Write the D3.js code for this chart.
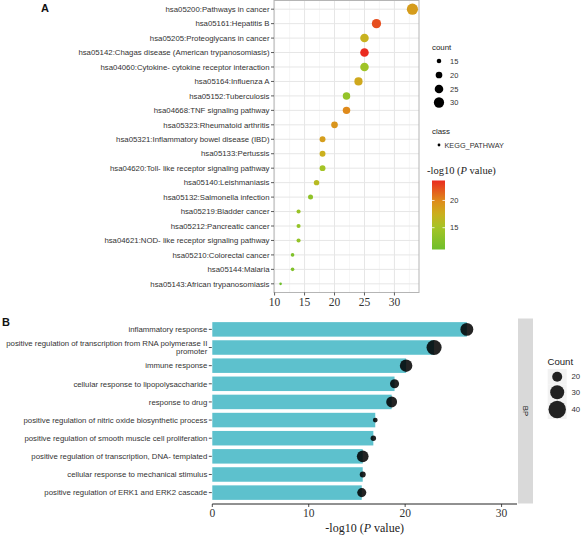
<!DOCTYPE html>
<html><head><meta charset="utf-8">
<script src="https://cdn.jsdelivr.net/npm/d3@7"></script>
<style>body{margin:0;background:#fff}svg{display:block}</style>
</head><body>
<svg id="c" width="581" height="535"></svg>
<script>
// ---------- Panel A data (KEGG) ----------
const keggTerms = [
  "hsa05200:Pathways in cancer",
  "hsa05161:Hepatitis B",
  "hsa05205:Proteoglycans in cancer",
  "hsa05142:Chagas disease (American trypanosomiasis)",
  "hsa04060:Cytokine- cytokine receptor interaction",
  "hsa05164:Influenza A",
  "hsa05152:Tuberculosis",
  "hsa04668:TNF signaling pathway",
  "hsa05323:Rheumatoid arthritis",
  "hsa05321:Inflammatory bowel disease (IBD)",
  "hsa05133:Pertussis",
  "hsa04620:Toll- like receptor signaling pathway",
  "hsa05140:Leishmaniasis",
  "hsa05132:Salmonella infection",
  "hsa05219:Bladder cancer",
  "hsa05212:Pancreatic cancer",
  "hsa04621:NOD- like receptor signaling pathway",
  "hsa05210:Colorectal cancer",
  "hsa05144:Malaria",
  "hsa05143:African trypanosomiasis"
];
const keggCount = [33, 27, 25, 25, 25, 24, 22, 22, 20, 18, 18, 18, 17, 16, 14, 14, 14, 13, 13, 11];
const keggLogP = [18.8, 22.3, 17.3, 23.66, 14.6, 18.0, 13.8, 20.0, 19.3, 18.7, 17.5, 15.0, 16.2, 13.4, 14.2, 13.8, 13.8, 12.2, 12.3, 11.0];
const keggXTicks = [10, 15, 20, 25, 30];
const countLegendA = [15, 20, 25, 30];
const colorbarTicks = [15, 20];

// ---------- Panel B data (GO BP) ----------
const goTerms = [
  "inflammatory response",
  "positive regulation of transcription from RNA polymerase II\npromoter",
  "immune response",
  "cellular response to lipopolysaccharide",
  "response to drug",
  "positive regulation of nitric oxide biosynthetic process",
  "positive regulation of smooth muscle cell proliferation",
  "positive regulation of transcription, DNA- templated",
  "cellular response to mechanical stimulus",
  "positive regulation of ERK1 and ERK2 cascade"
];
const goLogP = [26.4, 23.0, 20.1, 18.9, 18.6, 16.9, 16.7, 15.6, 15.6, 15.5];
const goCount = [27, 33, 26, 18, 22, 10, 11, 24, 12, 18];
const goXTicks = [0, 10, 20, 30];
const countLegendB = [20, 30, 40];

const svg = d3.select("#c");
const sans = "Liberation Sans, Arial, sans-serif";
const serif = "Liberation Serif, Times New Roman, serif";
const txtCol = "#333";

// ================= Panel A =================
const A = {l: 274, r: 419, t: 0.5, b: 292.5};
const xA = d3.scaleLinear().domain([9.9, 34.1]).range([A.l, A.r]);
const yA = d3.scalePoint().domain(keggTerms).range([A.t, A.b]).padding(0.6);
const rA = d3.scaleLinear().domain([Math.sqrt(11), Math.sqrt(33)]).range([1.3, 5.6]);
const colA = d3.scaleLinear()
  .domain([11.0, 15, 17.5, 20, 23.66])
  .range(["#6fbf2c", "#a4c426", "#cbb01e", "#df8a1b", "#ea2b1f"])
  .interpolate(d3.interpolateRgb);

const gA = svg.append("g");
gA.append("rect").attr("x", A.l).attr("y", A.t).attr("width", A.r - A.l).attr("height", A.b - A.t).attr("fill", "#fff");
// minor grid
const minorA = [12.5, 17.5, 22.5, 27.5, 32.5];
gA.selectAll(".mgx").data(minorA).join("line")
  .attr("x1", d => xA(d)).attr("x2", d => xA(d)).attr("y1", A.t).attr("y2", A.b)
  .attr("stroke", "#f0f0f0").attr("stroke-width", 0.6);
gA.selectAll(".gx").data(keggXTicks).join("line")
  .attr("x1", d => xA(d)).attr("x2", d => xA(d)).attr("y1", A.t).attr("y2", A.b)
  .attr("stroke", "#e6e6e6").attr("stroke-width", 1);
gA.selectAll(".gy").data(keggTerms).join("line")
  .attr("x1", A.l).attr("x2", A.r).attr("y1", d => yA(d)).attr("y2", d => yA(d))
  .attr("stroke", "#e6e6e6").attr("stroke-width", 1);
gA.append("rect").attr("x", A.l).attr("y", A.t).attr("width", A.r - A.l).attr("height", A.b - A.t)
  .attr("fill", "none").attr("stroke", "#b5b5b5").attr("stroke-width", 1);

// points
gA.selectAll(".pt").data(keggTerms).join("circle")
  .attr("cx", (d, i) => xA(keggCount[i])).attr("cy", d => yA(d))
  .attr("r", (d, i) => rA(Math.sqrt(keggCount[i])))
  .attr("fill", (d, i) => colA(keggLogP[i]));

// y axis
gA.selectAll(".yt").data(keggTerms).join("line")
  .attr("x1", A.l - 3).attr("x2", A.l).attr("y1", d => yA(d)).attr("y2", d => yA(d))
  .attr("stroke", "#333").attr("stroke-width", 0.8);
gA.selectAll(".yl").data(keggTerms).join("text")
  .attr("x", A.l - 4.5).attr("y", d => yA(d)).attr("dy", "0.35em")
  .attr("text-anchor", "end").attr("font-family", sans).attr("font-size", 7.8).attr("fill", txtCol)
  .text(d => d);
// x axis
gA.selectAll(".xt").data(keggXTicks).join("line")
  .attr("x1", d => xA(d)).attr("x2", d => xA(d)).attr("y1", A.b).attr("y2", A.b + 3)
  .attr("stroke", "#333").attr("stroke-width", 0.8);
gA.selectAll(".xl").data(keggXTicks).join("text")
  .attr("x", d => xA(d)).attr("y", 302).attr("dy", "0.35em")
  .attr("text-anchor", "middle").attr("font-family", serif).attr("font-size", 11.5).attr("fill", txtCol)
  .text(d => d);

svg.append("text").attr("x", 45).attr("y", 8).attr("dy", "0.35em").attr("text-anchor", "middle")
  .attr("font-family", sans).attr("font-weight", "bold").attr("font-size", 11).attr("fill", "#111").text("A");

// legend A: count
const LA = svg.append("g");
LA.append("text").attr("x", 432).attr("y", 47).attr("dy", "0.35em").attr("font-family", sans)
  .attr("font-size", 7.9).attr("fill", "#222").text("count");
const lyA = [61, 75, 89, 102.5];
LA.selectAll(".lc").data(countLegendA).join("circle")
  .attr("cx", 439).attr("cy", (d, i) => lyA[i]).attr("r", d => rA(Math.sqrt(d))).attr("fill", "#000");
LA.selectAll(".lt").data(countLegendA).join("text")
  .attr("x", 450).attr("y", (d, i) => lyA[i]).attr("dy", "0.35em").attr("font-family", sans)
  .attr("font-size", 7.5).attr("fill", "#333").text(d => d);
// class legend
LA.append("text").attr("x", 432).attr("y", 131).attr("dy", "0.35em").attr("font-family", sans)
  .attr("font-size", 7.9).attr("fill", "#222").text("class");
LA.append("circle").attr("cx", 439).attr("cy", 145).attr("r", 1.4).attr("fill", "#000");
LA.append("text").attr("x", 444.5).attr("y", 145).attr("dy", "0.35em").attr("font-family", sans)
  .attr("font-size", 7.3).attr("fill", "#333").text("KEGG_PATHWAY");
// colour bar legend
const cbTitle = LA.append("text").attr("x", 427).attr("y", 170).attr("dy", "0.35em")
  .attr("font-family", serif).attr("font-size", 10.5).attr("fill", "#222");
cbTitle.append("tspan").text("-log10 (");
cbTitle.append("tspan").attr("font-style", "italic").text("P");
cbTitle.append("tspan").text(" value)");
const cbY = d3.scaleLinear().domain([11.0, 23.66]).range([249.5, 180.5]);
const defs = svg.append("defs");
const grad = defs.append("linearGradient").attr("id", "cbg").attr("x1", 0).attr("y1", 1).attr("x2", 0).attr("y2", 0);
d3.range(0, 1.0001, 0.05).forEach(t => {
  const v = 11.0 + t * (23.66 - 11.0);
  grad.append("stop").attr("offset", t).attr("stop-color", colA(v));
});
LA.append("rect").attr("x", 432).attr("y", 180.5).attr("width", 13).attr("height", 69).attr("fill", "url(#cbg)");
LA.selectAll(".cbt").data(colorbarTicks).join("g").each(function(d) {
  const g = d3.select(this);
  g.append("line").attr("x1", 432).attr("x2", 434.5).attr("y1", cbY(d)).attr("y2", cbY(d)).attr("stroke", "#fff").attr("stroke-width", 0.8);
  g.append("line").attr("x1", 442.5).attr("x2", 445).attr("y1", cbY(d)).attr("y2", cbY(d)).attr("stroke", "#fff").attr("stroke-width", 0.8);
  g.append("text").attr("x", 450).attr("y", cbY(d)).attr("dy", "0.35em").attr("font-family", sans)
    .attr("font-size", 7.5).attr("fill", "#333").text(d);
});

// ================= Panel B =================
const B = {l: 212.3, r: 517, t: 318.5, b: 503.5};
const xB = d3.scaleLinear().domain([0, 31.6]).range([B.l, B.r]);
const yB = d3.scalePoint().domain(goTerms).range([B.t, B.b]).padding(0.6);
const stepB = yB.step();
const rB = d3.scaleLinear().domain([Math.sqrt(10), Math.sqrt(40)]).range([2.4, 8.7]);
const gB = svg.append("g");

gB.selectAll(".bar").data(goTerms).join("rect")
  .attr("x", xB(0)).attr("y", d => yB(d) - stepB * 0.4)
  .attr("width", (d, i) => xB(goLogP[i]) - xB(0)).attr("height", stepB * 0.8)
  .attr("fill", "#5dc1cd");
gB.selectAll(".dot").data(goTerms).join("circle")
  .attr("cx", (d, i) => xB(goLogP[i])).attr("cy", d => yB(d))
  .attr("r", (d, i) => rB(Math.sqrt(goCount[i])))
  .attr("fill", "#000").attr("fill-opacity", 0.86);

// x axis
gB.append("line").attr("x1", B.l).attr("x2", B.r).attr("y1", B.b + 0.5).attr("y2", B.b + 0.5)
  .attr("stroke", "#222").attr("stroke-width", 1);
gB.selectAll(".xt").data(goXTicks).join("line")
  .attr("x1", d => xB(d)).attr("x2", d => xB(d)).attr("y1", B.b + 0.5).attr("y2", B.b + 3.5)
  .attr("stroke", "#222").attr("stroke-width", 0.8);
gB.selectAll(".xl").data(goXTicks).join("text")
  .attr("x", d => xB(d)).attr("y", 513).attr("dy", "0.35em")
  .attr("text-anchor", "middle").attr("font-family", serif).attr("font-size", 11.5).attr("fill", txtCol)
  .text(d => d);
const tB = gB.append("text").attr("x", xB(15.8)).attr("y", 528).attr("dy", "0.35em").attr("text-anchor", "middle")
  .attr("font-family", serif).attr("font-size", 12).attr("fill", "#222");
tB.append("tspan").text("-log10 (");
tB.append("tspan").attr("font-style", "italic").text("P");
tB.append("tspan").text(" value)");

// y axis
gB.selectAll(".yt").data(goTerms).join("line")
  .attr("x1", B.l - 3.5).attr("x2", B.l - 0.5).attr("y1", d => yB(d)).attr("y2", d => yB(d))
  .attr("stroke", "#222").attr("stroke-width", 0.8);
gB.selectAll(".yl").data(goTerms).join("text")
  .attr("text-anchor", "end").attr("font-family", sans).attr("font-size", 7.8).attr("fill", txtCol)
  .each(function(d) {
    const lines = d.split("\n");
    const t = d3.select(this);
    const y0 = yB(d) - (lines.length - 1) * 4.2;
    lines.forEach((ln, k) => {
      t.append("tspan").attr("x", B.l - 5).attr("y", y0 + k * 8.4).attr("dy", "0.35em").text(ln);
    });
  });

// strip
gB.append("rect").attr("x", 518).attr("y", B.t).attr("width", 15).attr("height", B.b - B.t).attr("fill", "#d9d9d9");
gB.append("text").attr("transform", `translate(${525.5},${(B.t + B.b) / 2}) rotate(90)`)
  .attr("text-anchor", "middle").attr("dy", "0.35em").attr("font-family", sans).attr("font-size", 7.8)
  .attr("fill", "#1a1a1a").text("BP");

svg.append("text").attr("x", 6).attr("y", 322).attr("dy", "0.35em").attr("text-anchor", "middle")
  .attr("font-family", sans).attr("font-weight", "bold").attr("font-size", 11).attr("fill", "#111").text("B");

// legend B
const LB = svg.append("g");
LB.append("text").attr("x", 547.5).attr("y", 362).attr("dy", "0.35em").attr("font-family", sans)
  .attr("font-size", 9.6).attr("fill", "#222").text("Count");
const keyB = [[369, 384.5], [384.5, 400], [400, 419]];
LB.selectAll(".kb").data(countLegendB).join("rect")
  .attr("x", 547.7).attr("y", (d, i) => keyB[i][0]).attr("width", 19).attr("height", (d, i) => keyB[i][1] - keyB[i][0])
  .attr("fill", "#f2f2f2");
LB.selectAll(".lcb").data(countLegendB).join("circle")
  .attr("cx", 557.2).attr("cy", (d, i) => (keyB[i][0] + keyB[i][1]) / 2)
  .attr("r", d => rB(Math.sqrt(d))).attr("fill", "#000").attr("fill-opacity", 0.86);
LB.selectAll(".ltb").data(countLegendB).join("text")
  .attr("x", 571.5).attr("y", (d, i) => (keyB[i][0] + keyB[i][1]) / 2).attr("dy", "0.35em")
  .attr("font-family", sans).attr("font-size", 7.8).attr("fill", "#333").text(d => d);
</script>
</body></html>
